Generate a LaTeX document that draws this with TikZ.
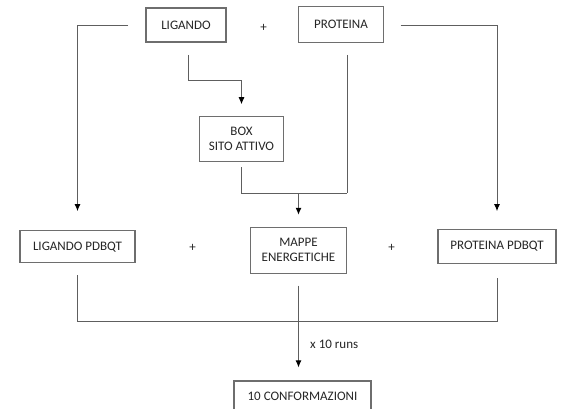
\documentclass[tikz,border=0pt]{standalone}
\usepackage{fontspec}
\setmainfont{Carlito}
\usetikzlibrary{arrows.meta}
\definecolor{linec}{HTML}{5E5E5E}
\definecolor{boxc}{HTML}{6E6E6E}
\definecolor{textc}{HTML}{262626}
\begin{document}
\begin{tikzpicture}[x=1pt,y=-1pt,
  boxnode/.style={draw=boxc, line width=1.1pt, inner sep=0pt, text=textc,
    font=\fontsize{13}{15}\selectfont, align=center},
  conn/.style={draw=linec, line width=1pt},
  arr/.style={conn, -{Latex[length=7pt,width=6pt,color=black]}},
  plain/.style={text=textc, font=\fontsize{13}{15}\selectfont, inner sep=0pt}]
\useasboundingbox (0,0) rectangle (565,409);
\clip (0,0) rectangle (565,409);
\fill[white] (0,0) rectangle (565,409);

% boxes
\node[boxnode, minimum width=80pt, minimum height=34pt] (lig) at (186,25) {LIGANDO};
\node[boxnode, minimum width=85pt, minimum height=36pt] (prot) at (341,24.7) {PROTEINA};
\node[boxnode, minimum width=84pt, minimum height=45pt] (box) at (241.5,138.8) {BOX\\SITO ATTIVO};
\node[boxnode, minimum width=115pt, minimum height=32pt] (lpdb) at (77.5,246.7) {LIGANDO PDBQT};
\node[boxnode, minimum width=96pt, minimum height=46pt] (mappe) at (298.5,250.3) {MAPPE\\ENERGETICHE};
\node[boxnode, minimum width=118pt, minimum height=34pt] (ppdb) at (497,246.3) {PROTEINA PDBQT};
\node[boxnode, minimum width=137pt, minimum height=30pt] (conf) at (302.5,396) {10 CONFORMAZIONI};

% plus signs and label
\node[plain] (p1) at (263.5,28) {+};
\node[plain] (p2) at (192.7,248) {+};
\node[plain] (p3) at (391.7,247.7) {+};
\node[plain, anchor=west] (runs) at (310,344) {x 10 runs};

% coordinates
\coordinate (lstart) at (128,25.7);
\coordinate (rstart) at (400.5,25.7);
\coordinate (ldown) at (188,55);
\coordinate (lbend) at (188,81);
\coordinate (pdown) at (347,55);
\coordinate (join) at (347,193);
\coordinate (hbot) at (0,321.7);

% connectors
\draw[arr] (lstart) -| ([yshift=19pt]lpdb.north);
\draw[arr] (rstart) -| ([yshift=17.6pt]ppdb.north);
\draw[arr] (ldown) -- (lbend) -| ([yshift=11.5pt]box.north);
\draw[conn] (pdown) -- (join);
\draw[conn] ([yshift=-5.5pt]box.south) |- (join);
\draw[arr] (mappe.north |- join) -- ([yshift=12pt]mappe.north);
\draw[conn] ([yshift=-12pt]lpdb.south) |- (hbot -| ppdb.south) -- ([yshift=-13.7pt]ppdb.south);
\draw[arr] ([yshift=-11.7pt]mappe.south) -- ([yshift=13pt]conf.north -| mappe.south);
\end{tikzpicture}
\end{document}
